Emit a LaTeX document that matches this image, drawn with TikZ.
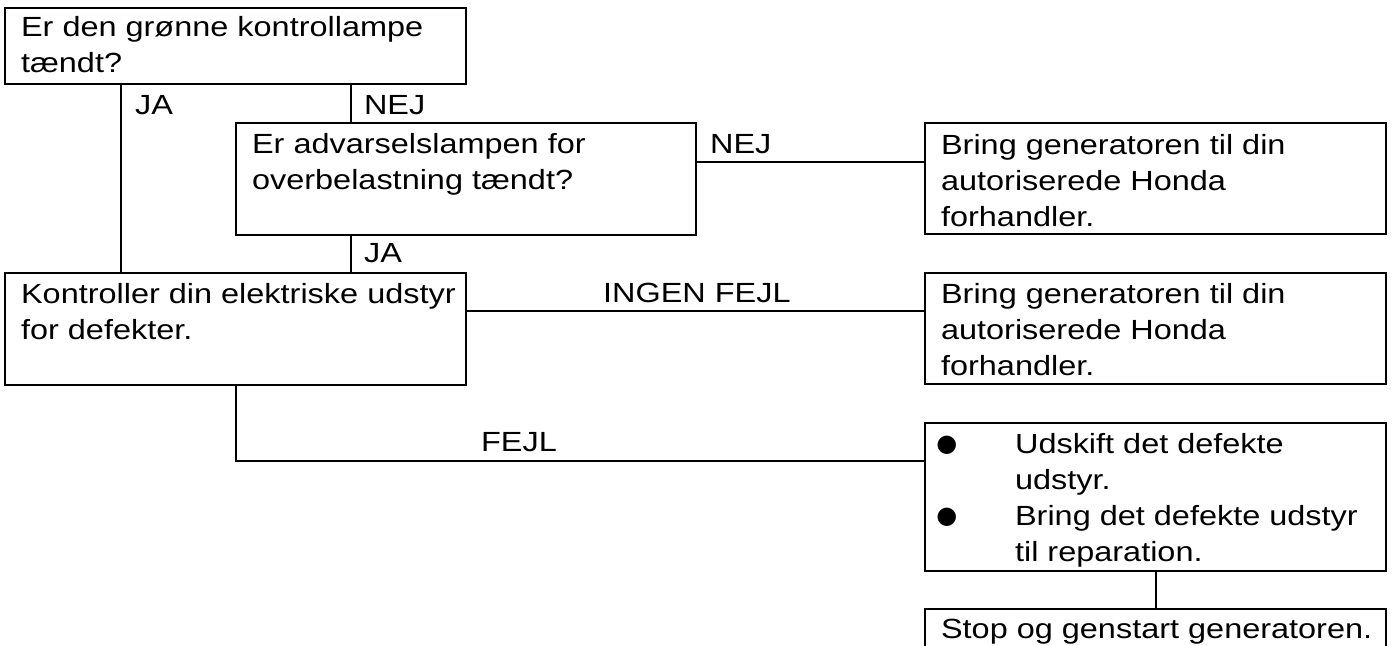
\documentclass[tikz,border=0pt]{standalone}
\usepackage{fontspec}
\setmainfont{Liberation Sans}[FakeStretch=1.17]
\newfontfamily\dotfont{DejaVu Sans}
\newcommand{\bul}{\hspace*{-3.5pt}\raisebox{1.5pt}{\dotfont\fontsize{18}{18}\selectfont ●}}

\tikzset{every picture/.style={line width=1.6pt}}
\tikzset{
  box/.style={draw, anchor=north west, inner sep=0pt, outer sep=0pt},
  txt/.style={anchor=north west, inner sep=0pt, align=left, font=\fontsize{20.8}{27}\selectfont},
  lbl/.style={anchor=base west, inner sep=0pt, font=\fontsize{20.8}{27}\selectfont}
}

\begin{document}
\begin{tikzpicture}[x=0.75pt,y=0.75pt,yscale=-1,xscale=1]
\useasboundingbox (0,0) rectangle (1392,646);

%Boxes
\node[box, minimum width=461*0.75pt, minimum height=76*0.75pt] (q1) at (5,8) {};
\node[box, minimum width=460*0.75pt, minimum height=112*0.75pt] (q2) at (236,123) {};
\node[box, minimum width=461*0.75pt, minimum height=112*0.75pt] (chk) at (5,273) {};
\node[box, minimum width=461*0.75pt, minimum height=111*0.75pt] (r1) at (925,123) {};
\node[box, minimum width=461*0.75pt, minimum height=111*0.75pt] (r2) at (925,273) {};
\node[box, minimum width=461*0.75pt, minimum height=148*0.75pt] (r3) at (925,423) {};
\node[box, minimum width=461*0.75pt, minimum height=45*0.75pt] (stop) at (925,609) {};

%Texts in boxes
\node[txt] (q1t) at (20,15.5) {Er den grønne kontrollampe\\tændt?};
\node[txt] (q2t) at (251,132.5) {Er advarselslampen for\\overbelastning tændt?};
\node[txt] (chkt) at (20,282.5) {Kontroller din elektriske udstyr\\for defekter.};
\node[txt] (r1t) at (940,133.5) {Bring generatoren til din\\autoriserede Honda\\forhandler.};
\node[txt] (r2t) at (940,282.5) {Bring generatoren til din\\autoriserede Honda\\forhandler.};
\node[txt] (r3t) at (940,432.5) {\makebox[55.5pt][l]{\bul}Udskift det defekte\\\hspace*{55.5pt}udstyr.\\\makebox[55.5pt][l]{\bul}Bring det defekte udstyr\\\hspace*{55.5pt}til reparation.};
\node[txt] (stopt) at (940,618.5) {Stop og genstart generatoren.};

%Connector positions
\coordinate (jaX) at (121,0);
\coordinate (nejX) at (351,0);
\coordinate (fejlX) at (236,0);
\coordinate (stopX) at (1156,0);
\coordinate (nejY) at (0,162);
\coordinate (okY) at (0,311);
\coordinate (fejlY) at (0,461);

%Connectors
\draw (q1.south -| jaX) -- (chk.north -| jaX);
\draw (q1.south -| nejX) -- (q2.north -| nejX);
\draw (q2.south -| nejX) -- (chk.north -| nejX);
\draw (q2.east |- nejY) -- (r1.west |- nejY);
\draw (chk.east |- okY) -- (r2.west |- okY);
\draw (chk.south -| fejlX) |- (r3.west |- fejlY);
\draw (r3.south -| stopX) -- (stop.north -| stopX);

%Labels
\node[lbl] (jaA) at (134,114) {JA};
\node[lbl] (nejA) at (363,114) {NEJ};
\node[lbl] (jaB) at (363,262) {JA};
\node[lbl] (nejB) at (709,153) {NEJ};
\node[lbl] (okL) at (602,302) {INGEN FEJL};
\node[lbl] (fejlL) at (480,451) {FEJL};

\end{tikzpicture}
\end{document}
